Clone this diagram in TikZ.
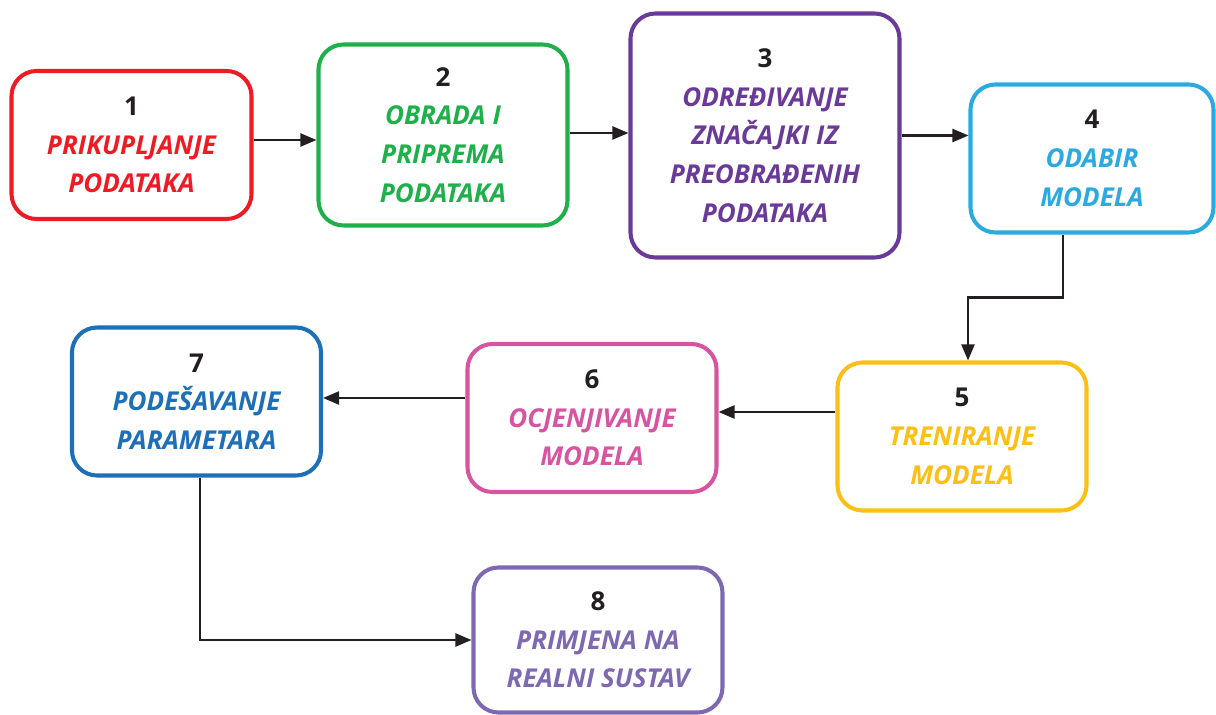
\documentclass[tikz,border=0pt]{standalone}
\usepackage{fontspec}
\setmainfont{Open Sans}
\usepackage{xcolor}
\usepackage{tikz}
\usetikzlibrary{arrows.meta, positioning}

\definecolor{cred}{HTML}{ED1C24}
\definecolor{cgreen}{HTML}{1FAF4B}
\definecolor{cpurple}{HTML}{6A3A99}
\definecolor{clblue}{HTML}{2AAAE1}
\definecolor{cyellow}{HTML}{FBBF16}
\definecolor{cpink}{HTML}{D654A0}
\definecolor{cblue}{HTML}{1D6FB8}
\definecolor{clav}{HTML}{7E68B2}
\definecolor{cnum}{HTML}{231F20}

\tikzset{
    stage/.style={draw=#1, text=#1, line width=2.3pt, rounded corners=0.5cm,
        align=center, minimum width=4.98cm, minimum height=2.96cm,
        font=\fontsize{14.8}{22}\selectfont\bfseries\itshape},
    flow/.style={-{Triangle[length=0.32cm,width=0.26cm]}, line width=1.3pt, cnum}
}
\newcommand{\stepnum}[1]{{\upshape\color{cnum}#1}}

\begin{document}
\begin{tikzpicture}[scale=1]
    \useasboundingbox (0,0) rectangle (24.32,-14.3);
    % Stages of the pipeline
    \node[stage=cred, minimum width=4.8cm] (b1) at (2.63,-2.9) {\stepnum{1}\\PRIKUPLJANJE\\PODATAKA};
    \node[stage=cgreen, minimum height=3.62cm] (b2) at (8.86,-2.7) {\stepnum{2}\\OBRADA I\\PRIPREMA\\PODATAKA};
    \node[stage=cpurple, minimum width=5.38cm, minimum height=4.88cm] (b3) at (15.3,-2.71) {\stepnum{3}\\ODREĐIVANJE\\ZNAČAJKI IZ\\PREOBRAĐENIH\\PODATAKA};
    \node[stage=clblue, minimum width=4.86cm] (b4) at (21.84,-3.17) {\stepnum{4}\\ODABIR\\MODELA};
    \node[stage=cyellow] (b5) at (19.24,-8.73) {\stepnum{5}\\TRENIRANJE\\MODELA};
    \node[stage=cpink] (b6) at (11.84,-8.36) {\stepnum{6}\\OCJENJIVANJE\\MODELA};
    \node[stage=cblue] (b7) at (3.93,-8.03) {\stepnum{7}\\PODEŠAVANJE\\PARAMETARA};
    \node[stage=clav, minimum height=2.9cm] (b8) at (11.96,-12.8) {\stepnum{8}\\PRIMJENA NA\\REALNI SUSTAV};

    % Connectors
    \draw[flow] ([yshift=0.1cm]b1.east) -- ([yshift=0.1cm]b1.east -| b2.west);
    \draw[flow] ([yshift=0.04cm]b2.east) -- ([yshift=0.04cm]b2.east -| b3.west);
    \draw[flow] (b3.east) -- (b3.east -| b4.west);
    \draw[flow] ([xshift=-0.58cm]b4.south) -- ++(0,-1.26) -| ([xshift=0.12cm]b5.north);
    \draw[flow] ([yshift=0.49cm]b5.west) -- ([yshift=0.49cm]b5.west -| b6.east);
    \draw[flow] ([yshift=0.4cm]b6.west) -- ([yshift=0.4cm]b6.west -| b7.east);
    \draw[flow] ([xshift=0.07cm]b7.south) |- (b8.west);
\end{tikzpicture}
\end{document}
